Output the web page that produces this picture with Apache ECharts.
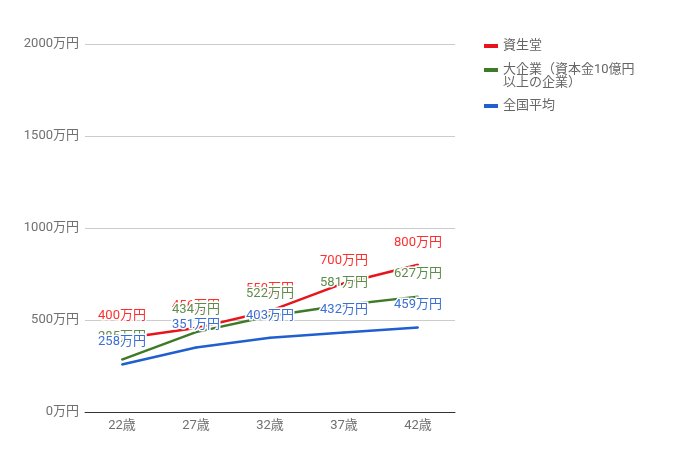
<!DOCTYPE html>
<html>
<head>
<meta charset="utf-8">
<script src="https://cdn.jsdelivr.net/npm/echarts@6/dist/echarts.min.js"></script>
<style>
  html, body { margin: 0; padding: 0; background: #fff; }
  #main { width: 673px; height: 462px; }
</style>
</head>
<body>
<div id="main"></div>
<script>
// 年齢と年収（万円）
let ages = ["22歳", "27歳", "32歳", "37歳", "42歳"]
let seriesNames = ["資生堂", "大企業（資本金10億円\n以上の企業）", "全国平均"]
let shiseido = [400, 456, 550, 700, 800]
let bigCompany = [285, 434, 522, 581, 627]
let nationalAvg = [258, 351, 403, 432, 459]

let lineColors = ["#e8141b", "#3f7a28", "#1f5fcf"]
let labelColors = ["#ff2e2e", "#5e8c4a", "#3b6fd6"]
let font = 'Roboto, "Noto Sans CJK JP", sans-serif'

var myChart = echarts.init(document.getElementById('main'))

function makeSeries(name, data, i){
  return {
    name: name,
    type: 'line',
    data: data,
    symbol: 'circle',
    symbolSize: 2,
    itemStyle: { color: lineColors[i] },
    lineStyle: { color: lineColors[i], width: 2.5 },
    label: {
      show: true,
      position: 'top',
      distance: 15,
      formatter: '{c}万円',
      color: labelColors[i],
      fontSize: 13,
      fontFamily: font,
      textBorderColor: '#fff',
      textBorderWidth: 3
    },
    emphasis: { disabled: true },
    animation: false
  }
}

// legend icon: 14x4 bar inside a 26px tall box (top for the two-line item)
let iconMid = 'path://M0,0h14v0.01h-14z M0,11h14v4h-14z M0,26h14v-0.01h-14z'
let iconTop = 'path://M0,0h14v0.01h-14z M0,5h14v4h-14z M0,26h14v-0.01h-14z'

var option = {
  animation: false,
  grid: { left: 85, right: 218, top: 44, bottom: 50 },
  legend: {
    orient: 'vertical',
    left: 479,
    top: 28,
    itemWidth: 14,
    itemHeight: 26,
    itemGap: 4,
    textStyle: { fontSize: 13, color: '#666', fontFamily: font, lineHeight: 12.5 },
    data: [
      { name: seriesNames[0], icon: iconMid },
      { name: seriesNames[1], icon: iconTop },
      { name: seriesNames[2], icon: iconMid }
    ]
  },
  xAxis: {
    type: 'category',
    data: ages,
    boundaryGap: true,
    axisLine: { lineStyle: { color: '#333', width: 1 } },
    axisTick: { show: false },
    axisLabel: { color: '#707070', fontSize: 13, fontFamily: font, margin: 7 }
  },
  yAxis: {
    type: 'value',
    min: 0,
    max: 2000,
    interval: 500,
    axisLine: { show: false },
    axisTick: { show: false },
    axisLabel: {
      formatter: function (v) { return v + '万円' },
      color: '#707070', fontSize: 13, fontFamily: font, margin: 6
    },
    splitLine: { lineStyle: { color: '#ccc' } }
  },
  series: [
    makeSeries(seriesNames[0], shiseido, 0),
    makeSeries(seriesNames[1], bigCompany, 1),
    makeSeries(seriesNames[2], nationalAvg, 2)
  ]
}

myChart.setOption(option)
</script>
</body>
</html>
